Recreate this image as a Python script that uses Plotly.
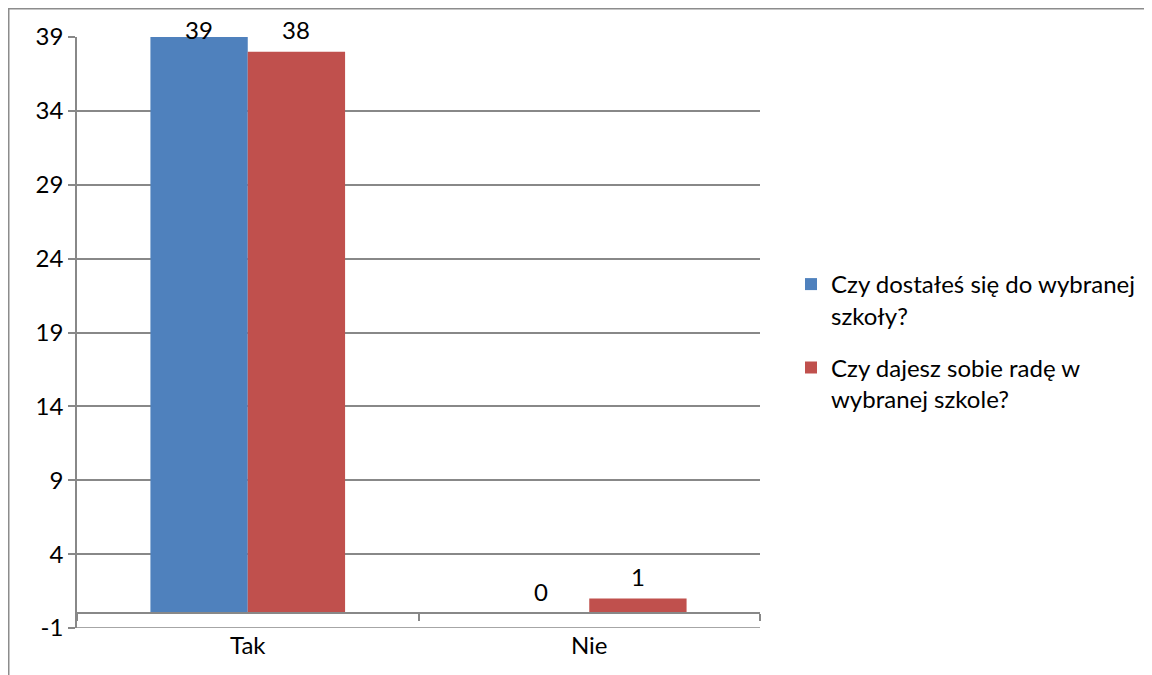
import plotly.graph_objects as go

categories = ["Tak", "Nie"]
series_names = ["Czy dostałeś się do wybranej<br>szkoły?", "Czy dajesz sobie radę w<br>wybranej szkole?"]
series1 = [39, 0]
series2 = [38, 1]
colors = ["#4F81BD", "#C0504D"]
y_ticks = [-1, 4, 9, 14, 19, 24, 29, 34, 39]
y_tick_labels = ["-1", "4", "9", "14", "19", "24", "29", "34", "39"]

FONT = "Lato"
FS = 24
GRID = "#888888"

W, H = 1152, 675
L, R, T, B = 69, 400, 29, 55
pw, ph = W - L - R, H - T - B
ymin, ymax = -1, 39
ppu = ph / (ymax - ymin)

def px_x(p):
    return (p - L) / pw

def px_y(p):
    return (H - B - p) / ph

fig = go.Figure()
for name, vals, col, grp in [(series_names[0], series1, colors[0], "a"),
                             (series_names[1], series2, colors[1], "b")]:
    fig.add_trace(go.Bar(x=categories, y=vals, name=name, marker_color=col,
                         marker_line_width=0, legendgroup=grp))

# data labels: 22px above bar top, clamped near chart top (Excel-like)
for k, vals in enumerate([series1, series2]):
    for i, v in enumerate(vals):
        dist_top = (ymax - v) * ppu
        shift = 22 - max(0, 22 - 8 - dist_top)
        fig.add_annotation(x=categories[i], y=v, yshift=shift,
                           text=str(v), showarrow=False, xref="x", yref="y",
                           xshift=(-1 if k == 0 else 1) * 97 / 2,
                           font=dict(family=FONT, size=FS, color="#000000"),
                           yanchor="middle")

# bottom gridline at the axis minimum
fig.add_shape(type="line", xref="paper", yref="y", x0=0, x1=1, y0=ymin, y1=ymin,
              line=dict(color=GRID, width=1.5), layer="below")

# outer frame (only top and left edges fall inside the picture)
fig.add_shape(type="line", xref="paper", yref="paper",
              x0=px_x(0), x1=px_x(W + 20), y0=px_y(0.5), y1=px_y(0.5),
              line=dict(color="#8C8C8C", width=2))
fig.add_shape(type="line", xref="paper", yref="paper",
              x0=px_x(0.5), x1=px_x(0.5), y0=px_y(0), y1=px_y(H + 20),
              line=dict(color="#8C8C8C", width=2))

fig.update_layout(
    width=W, height=H,
    margin=dict(l=L, r=R, t=T, b=B),
    plot_bgcolor="white", paper_bgcolor="white",
    barmode="group", bargap=0.43, bargroupgap=0,
    font=dict(family=FONT, size=FS, color="#000000"),
    showlegend=True,
    legend=dict(x=px_x(783), y=px_y(254), xanchor="left", yanchor="top",
                font=dict(family=FONT, size=FS), traceorder="grouped",
                tracegroupgap=18, valign="top", itemwidth=30,
                bgcolor="rgba(0,0,0,0)"),
    xaxis=dict(type="category", anchor="free", position=(0 - ymin) / (ymax - ymin),
               showline=True, linecolor=GRID, linewidth=1.5,
               ticks="outside", tickson="boundaries", ticklen=7, tickcolor=GRID, tickwidth=1.5,
               showgrid=False, ticklabelstandoff=11,
               tickfont=dict(family=FONT, size=FS)),
    yaxis=dict(range=[ymin, ymax], tickmode="array", tickvals=y_ticks, ticktext=y_tick_labels,
               showgrid=True, gridcolor=GRID, gridwidth=1.5,
               showline=True, linecolor=GRID, linewidth=1.5,
               ticks="outside", ticklen=7, tickcolor=GRID, tickwidth=1.5,
               zeroline=False, tickfont=dict(family=FONT, size=FS),
               ticklabelstandoff=0),
)

fig.write_html("out.html")
